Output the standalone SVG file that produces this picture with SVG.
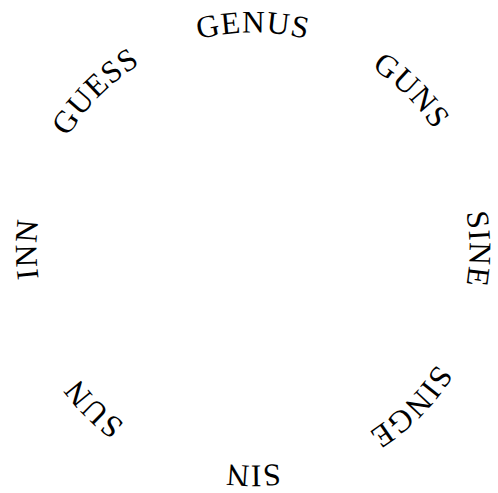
<svg xmlns="http://www.w3.org/2000/svg" xmlns:xlink="http://www.w3.org/1999/xlink" width="498" height="493" viewBox="0 0 498 493">
<style>
  .w { font-family: "Liberation Serif", "Times New Roman", serif; font-size: 31.5px; letter-spacing: 1px; fill: #000; }
</style>
<defs>
  <path id="ring" d="M253,465.5 A216.5,216.5 0 1 1 253,32.5 A216.5,216.5 0 1 1 253,465.5"/>
</defs>
<rect width="498" height="493" fill="#fff"/>
<g id="connectors"/>
<g id="genus" transform="rotate(0 253 249)"><text class="w"><textPath href="#ring" xlink:href="#ring" startOffset="50%" text-anchor="middle">GENUS</textPath></text></g>
<g id="guns" transform="rotate(45 253 249)"><text class="w"><textPath href="#ring" xlink:href="#ring" startOffset="50%" text-anchor="middle">GUNS</textPath></text></g>
<g id="sine" transform="rotate(90 253 249)"><text class="w"><textPath href="#ring" xlink:href="#ring" startOffset="50%" text-anchor="middle">SINE</textPath></text></g>
<g id="singe" transform="rotate(135 253 249)"><text class="w"><textPath href="#ring" xlink:href="#ring" startOffset="50%" text-anchor="middle">SINGE</textPath></text></g>
<g id="sin" transform="rotate(180 253 249)"><text class="w"><textPath href="#ring" xlink:href="#ring" startOffset="50%" text-anchor="middle">SIN</textPath></text></g>
<g id="sun" transform="rotate(225 253 249)"><text class="w"><textPath href="#ring" xlink:href="#ring" startOffset="50%" text-anchor="middle">SUN</textPath></text></g>
<g id="inn" transform="rotate(270 253 249)"><text class="w"><textPath href="#ring" xlink:href="#ring" startOffset="50%" text-anchor="middle">INN</textPath></text></g>
<g id="guess" transform="rotate(315 253 249)"><text class="w"><textPath href="#ring" xlink:href="#ring" startOffset="50%" text-anchor="middle">GUESS</textPath></text></g>
</svg>
